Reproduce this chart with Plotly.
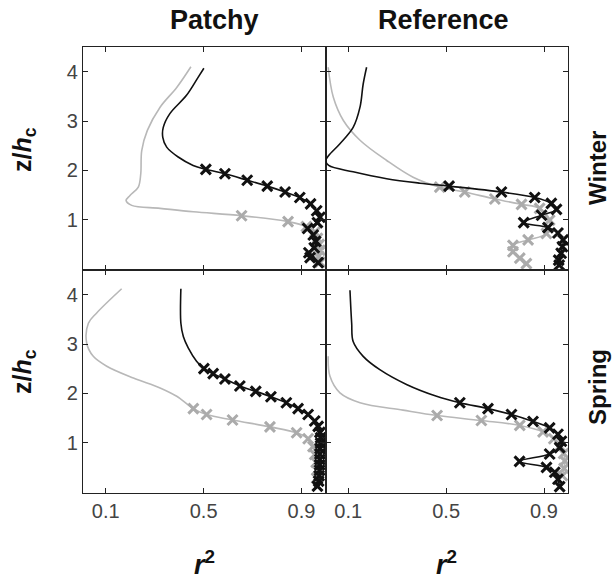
import plotly.graph_objects as go
from plotly.subplots import make_subplots

# ---------------- data (r^2 vs z/h_c) ----------------
# Patchy / Winter
pw_black_line_z = [4.07, 3.89, 3.52, 3.15, 2.87, 2.67, 2.47, 2.27, 2.10]
pw_black_line_r = [0.501, 0.478, 0.430, 0.362, 0.335, 0.333, 0.349, 0.396, 0.457]
pw_black_mk_z = [2.02, 1.93, 1.80, 1.68, 1.56, 1.45, 1.32, 1.18, 1.05, 0.94, 0.82, 0.69, 0.56, 0.43, 0.33, 0.23, 0.13]
pw_black_mk_r = [0.509, 0.587, 0.678, 0.760, 0.833, 0.893, 0.937, 0.962, 0.975, 0.965, 0.925, 0.948, 0.958, 0.952, 0.930, 0.935, 0.968]
pw_gray_line_z = [4.10, 3.68, 3.28, 2.81, 2.40, 1.93, 1.66, 1.49, 1.39, 1.29, 1.23, 1.16]
pw_gray_line_r = [0.448, 0.390, 0.322, 0.270, 0.247, 0.243, 0.233, 0.199, 0.183, 0.206, 0.322, 0.458]
pw_gray_mk_z = [1.08, 0.96, 0.86, 0.75, 0.62, 0.50, 0.38, 0.26, 0.14]
pw_gray_mk_r = [0.655, 0.845, 0.920, 0.955, 0.965, 0.972, 0.975, 0.970, 0.975]

# Reference / Winter
rw_black_line_z = [4.09, 3.75, 3.28, 2.87, 2.54, 2.30, 2.20, 2.10, 1.97, 1.83, 1.74]
rw_black_line_r = [0.175, 0.161, 0.148, 0.120, 0.066, 0.020, 0.008, 0.020, 0.120, 0.257, 0.393]
rw_black_mk_z = [1.68, 1.56, 1.45, 1.33, 1.21, 1.09, 0.94, 0.84, 0.73, 0.59, 0.45, 0.32, 0.18, 0.08]
rw_black_mk_r = [0.512, 0.726, 0.862, 0.930, 0.951, 0.890, 0.817, 0.916, 0.957, 0.978, 0.975, 0.970, 0.960, 0.962]
rw_gray_line_z = [4.09, 3.48, 3.01, 2.61, 2.20, 1.86]
rw_gray_line_r = [0.018, 0.039, 0.080, 0.148, 0.257, 0.365]
rw_gray_mk_z = [1.66, 1.56, 1.42, 1.31, 1.23, 0.99, 0.72, 0.59, 0.48, 0.35, 0.22, 0.11]
rw_gray_mk_r = [0.474, 0.576, 0.699, 0.808, 0.882, 0.923, 0.910, 0.835, 0.773, 0.773, 0.801, 0.828]

# Patchy / Spring
ps_black_line_z = [4.12, 3.42, 3.15, 2.92, 2.65]
ps_black_line_r = [0.407, 0.407, 0.417, 0.437, 0.471]
ps_black_mk_z = [2.50, 2.40, 2.29, 2.15, 2.04, 1.93, 1.81, 1.69, 1.57, 1.44, 1.33, 1.21, 1.10, 0.99, 0.88, 0.77, 0.66, 0.55, 0.44, 0.33, 0.22, 0.12]
ps_black_mk_r = [0.501, 0.539, 0.587, 0.648, 0.713, 0.775, 0.838, 0.886, 0.927, 0.954, 0.968, 0.975, 0.978, 0.978, 0.976, 0.975, 0.975, 0.974, 0.974, 0.972, 0.970, 0.965]
ps_gray_line_z = [4.12, 3.63, 3.42, 3.02, 2.75, 2.55, 2.31, 2.11, 1.94]
ps_gray_line_r = [0.165, 0.063, 0.029, 0.022, 0.049, 0.104, 0.213, 0.322, 0.390]
ps_gray_mk_z = [1.69, 1.57, 1.46, 1.32, 1.20, 1.08, 0.92, 0.76, 0.60, 0.44, 0.28]
ps_gray_mk_r = [0.458, 0.512, 0.618, 0.771, 0.880, 0.927, 0.947, 0.954, 0.960, 0.963, 0.962]

# Reference / Spring
rs_black_line_z = [4.09, 3.42, 3.05, 2.75, 2.48, 2.18, 1.94]
rs_black_line_r = [0.107, 0.114, 0.120, 0.161, 0.229, 0.338, 0.461]
rs_black_mk_z = [1.81, 1.69, 1.57, 1.43, 1.30, 1.17, 1.03, 0.90, 0.77, 0.62, 0.50, 0.40, 0.26, 0.11]
rs_black_mk_r = [0.556, 0.671, 0.767, 0.855, 0.923, 0.957, 0.971, 0.964, 0.923, 0.800, 0.910, 0.944, 0.957, 0.964]
rs_gray_line_z = [2.75, 2.35, 2.01, 1.81, 1.66]
rs_gray_line_r = [0.018, 0.025, 0.066, 0.148, 0.324]
rs_gray_mk_z = [1.55, 1.45, 1.35, 1.22, 1.08, 0.93, 0.78, 0.63, 0.48, 0.33]
rs_gray_mk_r = [0.463, 0.644, 0.801, 0.896, 0.940, 0.965, 0.980, 0.985, 0.982, 0.975]

x_tick_vals = [0.1, 0.5, 0.9]
x_tick_text = ["0.1", "0.5", "0.9"]
y_tick_vals = [1, 2, 3, 4]
y_tick_text = ["1", "2", "3", "4"]
col_titles = ["Patchy", "Reference"]
row_titles = ["Winter", "Spring"]

# ---------------- figure ----------------
W, H = 614, 581
L, R, T, B = 83, 568, 47, 493

fig = make_subplots(rows=2, cols=2, horizontal_spacing=0, vertical_spacing=0)

BLACK = "#111111"
GRAY_LINE = "#b8b8b8"
GRAY_MK = "#ababab"

panels = [
    (1, 1, pw_gray_line_r, pw_gray_line_z, pw_gray_mk_r, pw_gray_mk_z,
     pw_black_line_r, pw_black_line_z, pw_black_mk_r, pw_black_mk_z),
    (1, 2, rw_gray_line_r, rw_gray_line_z, rw_gray_mk_r, rw_gray_mk_z,
     rw_black_line_r, rw_black_line_z, rw_black_mk_r, rw_black_mk_z),
    (2, 1, ps_gray_line_r, ps_gray_line_z, ps_gray_mk_r, ps_gray_mk_z,
     ps_black_line_r, ps_black_line_z, ps_black_mk_r, ps_black_mk_z),
    (2, 2, rs_gray_line_r, rs_gray_line_z, rs_gray_mk_r, rs_gray_mk_z,
     rs_black_line_r, rs_black_line_z, rs_black_mk_r, rs_black_mk_z),
]

for (row, col, glr, glz, gmr, gmz, blr, blz, bmr, bmz) in panels:
    for lr, lz, mr, mz, lc, mc in [(glr, glz, gmr, gmz, GRAY_LINE, GRAY_MK),
                                   (blr, blz, bmr, bmz, BLACK, BLACK)]:
        fig.add_trace(go.Scatter(x=list(lr) + list(mr), y=list(lz) + list(mz),
                                 mode="lines", line=dict(color=lc, width=1.6),
                                 line_shape="spline", hoverinfo="skip",
                                 showlegend=False), row=row, col=col)
        fig.add_trace(go.Scatter(x=mr, y=mz, mode="markers",
                                 marker=dict(symbol="x-thin", size=10,
                                             line=dict(color=mc, width=3)),
                                 showlegend=False), row=row, col=col)

tick_font = dict(family="Liberation Sans Narrow, Liberation Sans, Arial", size=20, color="#444444")
for row in (1, 2):
    for col in (1, 2):
        fig.update_xaxes(range=[0.007, 0.998], tickvals=x_tick_vals, ticktext=x_tick_text,
                         showticklabels=(row == 2), ticks="inside", ticklen=5, tickwidth=1,
                         tickcolor="#222222", mirror="ticks", showline=True, linecolor="#222222",
                         linewidth=1.2, showgrid=False, zeroline=False, tickfont=tick_font,
                         row=row, col=col)
        fig.update_yaxes(range=[-0.02, 4.5], tickvals=y_tick_vals, ticktext=y_tick_text,
                         showticklabels=(col == 1), ticks="inside", ticklen=5, tickwidth=1,
                         tickcolor="#222222", mirror="ticks", showline=True, linecolor="#222222",
                         linewidth=1.2, showgrid=False, zeroline=False, tickfont=tick_font,
                         row=row, col=col)


def px(x):
    return (x - L) / (R - L)


def py(y):
    return (B - y) / (B - T)


title_font = dict(family="Liberation Sans, Arial", size=27, color="#111111")
ann = []
for text, xc in zip(col_titles, [214, 443]):
    ann.append(dict(text=f"<b>{text}</b>", x=px(xc), y=py(20), xref="paper", yref="paper",
                    showarrow=False, xanchor="center", yanchor="middle", font=title_font))
for text, yc in zip(row_titles, [168, 387]):
    ann.append(dict(text=f"<b>{text}</b>", x=px(597), y=py(yc), xref="paper", yref="paper",
                    showarrow=False, xanchor="center", yanchor="middle", textangle=-90,
                    font=dict(family="Liberation Sans, Arial", size=24, color="#111111")))
for yc in [150, 372]:
    ann.append(dict(text="<b>z/<i>h</i><sub>c</sub></b>", x=px(24), y=py(yc), xref="paper", yref="paper",
                    showarrow=False, xanchor="center", yanchor="middle", textangle=-90,
                    font=dict(family="Liberation Sans, Arial", size=25, color="#111111")))
for xc in [204, 446]:
    ann.append(dict(text="<b><i>r</i><sup>2</sup></b>", x=px(xc), y=py(563), xref="paper", yref="paper",
                    showarrow=False, xanchor="center", yanchor="middle",
                    font=dict(family="Liberation Sans, Arial", size=27, color="#111111")))

fig.update_layout(width=W, height=H, margin=dict(l=L, r=W - R, t=T, b=H - B),
                  paper_bgcolor="white", plot_bgcolor="white", annotations=ann)

fig.write_html("out.html")
